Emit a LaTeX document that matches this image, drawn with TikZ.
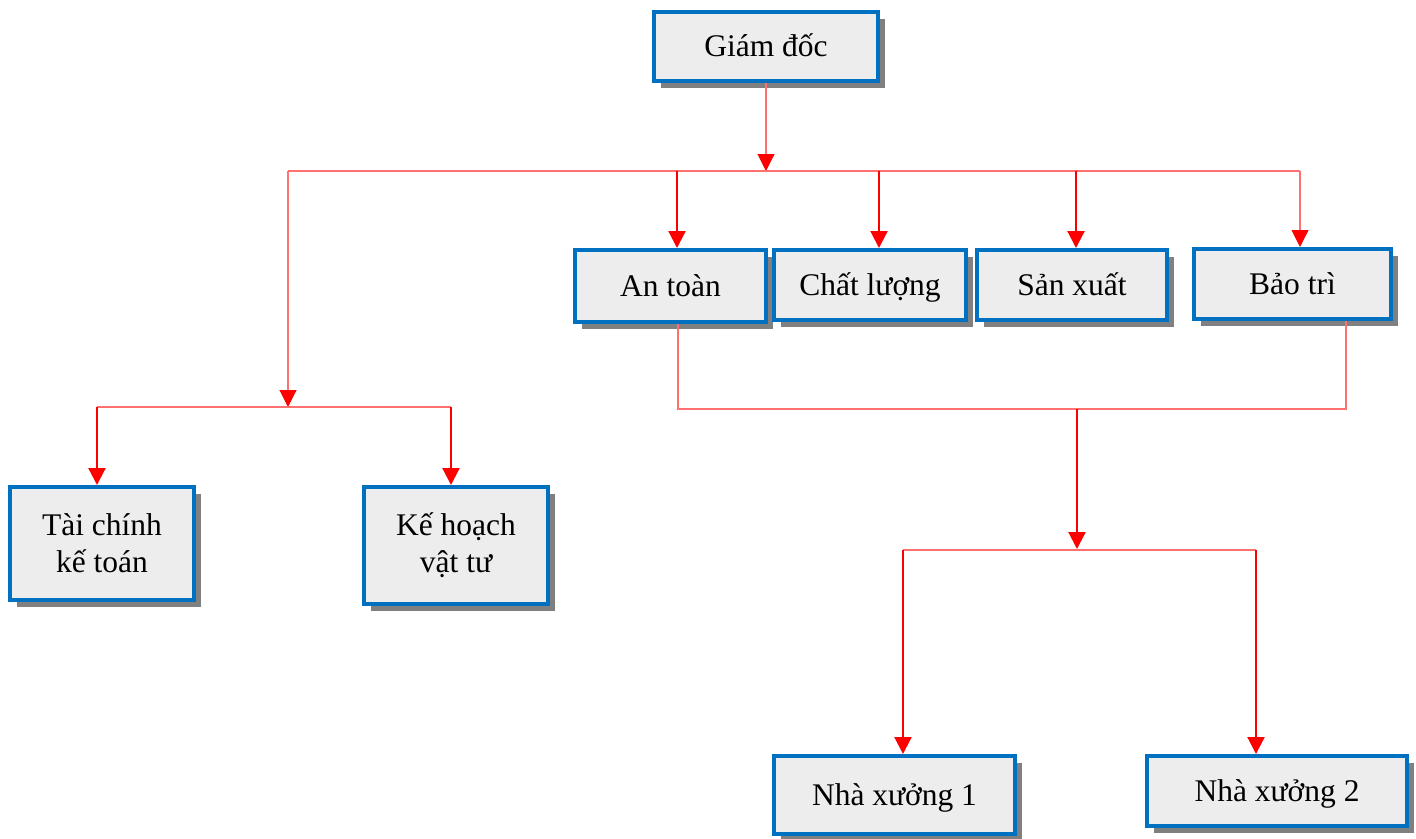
\documentclass[tikz,border=0pt]{standalone}
\usepackage{fontspec}
\setmainfont{Liberation Serif}
\usetikzlibrary{arrows.meta,shadows}
\definecolor{boxblue}{HTML}{0070C0}
\definecolor{boxfill}{HTML}{EDEDED}
\definecolor{shadowgray}{HTML}{808080}
\definecolor{lightred}{HTML}{FF7070}
\definecolor{strongred}{HTML}{FF0000}
\begin{document}
\begin{tikzpicture}[x=1pt,y=-1pt,
  box/.style={draw=boxblue, fill=boxfill, line width=4pt, align=center,
    font=\fontsize{31.5}{37}\selectfont, inner sep=0pt,
    drop shadow={shadow xshift=7pt, shadow yshift=-7pt, fill=shadowgray, opacity=1}},
  oneline/.style={text height=27pt, text depth=7pt},
  thinline/.style={draw=lightred, line width=1.1pt},
  thickline/.style={draw=strongred, line width=2.2pt},
  arr/.style={-{Triangle[width=17pt,length=17pt,color=strongred]}}]
\useasboundingbox (0,0) rectangle (1416,838);

% nodes
\node[box, oneline, minimum width=224pt, minimum height=69pt] (gd) at (766,46.5) {Giám đốc};
\node[box, oneline, minimum width=191pt, minimum height=72pt] (at) at (670.5,286) {An toàn};
\node[box, oneline, minimum width=192pt, minimum height=70pt] (cl) at (870,285) {Chất lượng};
\node[box, oneline, minimum width=190pt, minimum height=70pt] (sx) at (1072,285) {Sản xuất};
\node[box, oneline, minimum width=197pt, minimum height=70pt] (bt) at (1292.5,284) {Bảo trì};
\node[box, minimum width=184pt, minimum height=113pt] (tc) at (102,543.5) {Tài chính\\kế toán};
\node[box, minimum width=184pt, minimum height=117pt] (kh) at (456,545.5) {Kế hoạch\\vật tư};
\node[box, oneline, minimum width=241pt, minimum height=78pt] (n1) at (894.5,795) {Nhà xưởng 1};
\node[box, oneline, minimum width=260pt, minimum height=70pt] (n2) at (1277,791) {Nhà xưởng 2};

% junction coordinates
\coordinate (j0) at (766,171);
\coordinate (b1l) at (288,171);
\coordinate (b1r) at (1300,171);
\coordinate (d1) at (677,171);
\coordinate (d2) at (879,171);
\coordinate (d3) at (1076,171);
\coordinate (j1) at (288,407);
\coordinate (b2l) at (97,407);
\coordinate (b2r) at (451,407);
\coordinate (e1) at (678,409);
\coordinate (e2) at (1346,409);
\coordinate (e3) at (1077,409);
\coordinate (j3) at (1077,549);
\coordinate (b3l) at (903,550);
\coordinate (b3r) at (1256,550);

% top level
\draw[thinline, arr] (gd.south) -- (j0);
\draw[thinline] (b1l) -- (b1r);
\draw[thickline, arr] (d1) -- (d1 |- at.north);
\draw[thickline, arr] (d2) -- (d2 |- cl.north);
\draw[thickline, arr] (d3) -- (d3 |- sx.north);
\draw[thinline, arr] (b1r) -- (b1r |- bt.north);

% left branch
\draw[thinline, arr] (b1l) -- (j1);
\draw[thinline] (b2l) -- (b2r);
\draw[thickline, arr] (b2l) -- (b2l |- tc.north);
\draw[thickline, arr] (b2r) -- (b2r |- kh.north);

% right branch
\draw[thinline] (e1 |- at.south) -- (e1) -- (e2) -- (e2 |- bt.south);
\draw[thickline, arr] (e3) -- (j3);
\draw[thinline] (b3l) -- (b3r);
\draw[thickline, arr] (b3l) -- (b3l |- n1.north);
\draw[thickline, arr] (b3r) -- (b3r |- n2.north);
\end{tikzpicture}
\end{document}
